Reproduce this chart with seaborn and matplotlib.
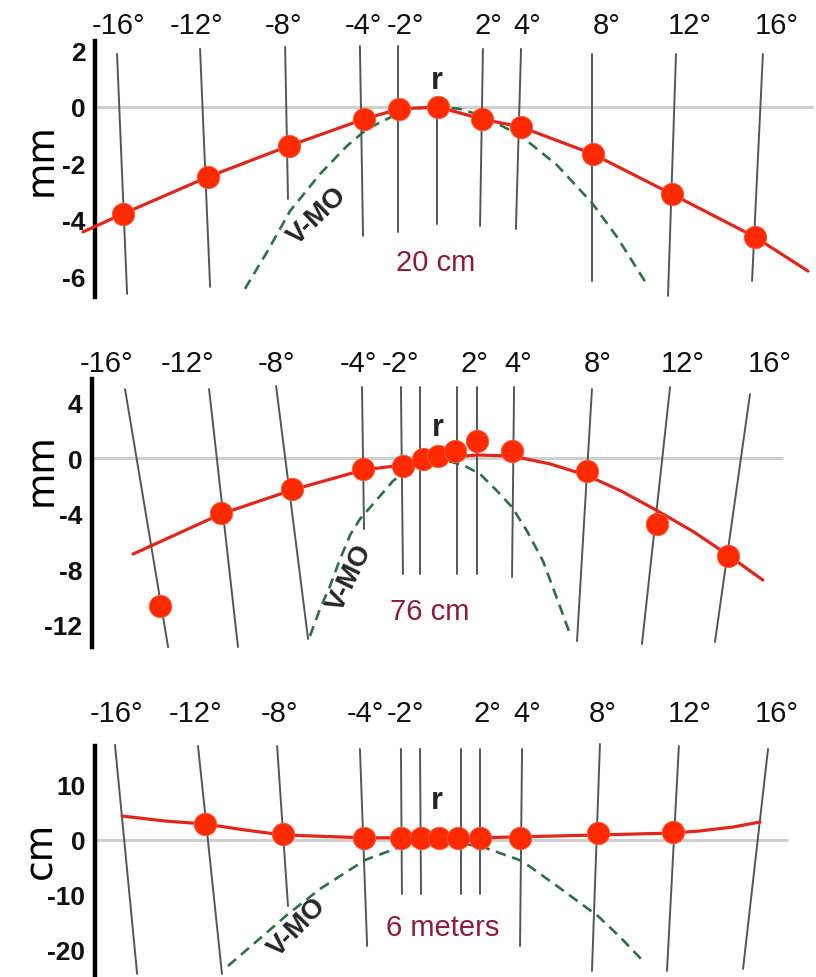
import matplotlib
matplotlib.use("Agg")
import matplotlib.pyplot as plt
import seaborn as sns

sns.set_theme(style="white")
plt.rcParams["font.family"] = ["Liberation Sans", "DejaVu Sans"]

# x = horizontal position (roughly degrees), y = height of the horopter point

# ---------- panel 1 : 20 cm (mm)
p1_labels = ["-16°", "-12°", "-8°", "-4°", "-2°", "2°", "4°", "8°", "12°", "16°"]
p1_label_x = [-15.56, -11.71, -7.51, -3.61, -1.56, 2.49, 4.39, 8.29, 12.34, 16.59]
p1_yticks = [2, 0, -2, -4, -6]
p1_mer_x0 = [-15.61, -11.56, -7.41, -3.76, -1.90, 0.00, 2.24, 4.10, 7.56, 11.66, 15.90]
p1_mer_y0 = [1.88, 2.06, 2.13, 2.16, 2.16, 0.00, 2.06, 2.06, 1.88, 1.88, 1.88]
p1_mer_x1 = [-15.12, -11.07, -7.27, -3.61, -1.90, 0.00, 2.10, 3.85, 7.56, 11.27, 15.37]
p1_mer_y1 = [-6.63, -6.38, -3.26, -4.57, -4.43, -4.15, -4.22, -4.33, -6.17, -6.70, -6.17]
p1_dot_x = [-15.32, -11.17, -7.22, -3.56, -1.85, 0.05, 2.20, 4.10, 7.61, 11.46, 15.51]
p1_dot_y = [-3.79, -2.48, -1.38, -0.43, -0.07, 0.00, -0.43, -0.71, -1.67, -3.09, -4.61]
p1_fit_x = [-17.27, -15.32, -11.17, -7.22, -3.56, -1.85, 0.05, 2.20, 4.10, 7.61, 11.46, 15.51, 18.10]
p1_fit_y = [-4.43, -3.79, -2.48, -1.38, -0.43, -0.07, 0.00, -0.43, -0.71, -1.67, -3.09, -4.61, -5.82]
p1_vmo_x = [-9.37, -8.29, -7.17, -5.71, -4.39, -3.41, -1.95, -0.83, 0.15, 1.12, 2.24, 4.10, 5.85, 7.56, 8.78, 10.29]
p1_vmo_y = [-6.45, -5.14, -3.69, -2.38, -1.38, -0.78, -0.25, -0.04, 0.00, -0.07, -0.32, -1.03, -2.06, -3.40, -4.61, -6.35]

# ---------- panel 2 : 76 cm (mm)
p2_labels = ["-16°", "-12°", "-8°", "-4°", "-2°", "2°", "4°", "8°", "12°", "16°"]
p2_label_x = [-16.10, -12.15, -7.85, -3.85, -1.80, 1.85, 3.95, 7.85, 12.00, 16.24]
p2_yticks = [4, 0, -4, -8, -12]
p2_mer_x0 = [-15.22, -11.12, -7.85, -3.66, -1.76, -0.83, 0.98, 1.95, 3.76, 7.56, 11.37, 15.27]
p2_mer_y0 = [4.96, 4.96, 5.18, 5.11, 5.11, 5.11, 5.11, 5.11, 5.11, 4.96, 5.11, 4.60]
p2_mer_x1 = [-13.12, -9.71, -6.29, -3.56, -1.66, -0.83, 0.98, 1.95, 3.66, 6.83, 10.00, 13.56]
p2_mer_y1 = [-13.60, -13.60, -13.02, -5.11, -8.35, -8.35, -8.35, -8.35, -8.56, -13.17, -13.38, -13.24]
p2_dot_x = [-13.51, -10.54, -7.07, -3.61, -1.66, -0.68, 0.05, 0.88, 1.95, 3.66, 7.32, 10.73, 14.20]
p2_dot_y = [-10.65, -3.96, -2.23, -0.79, -0.58, -0.07, 0.14, 0.50, 1.22, 0.50, -0.94, -4.75, -7.05]
p2_fit_x = [-14.83, -10.54, -7.07, -3.61, -1.66, 0.15, 1.95, 3.66, 5.51, 7.32, 9.02, 10.73, 12.49, 14.20, 15.90]
p2_fit_y = [-6.91, -4.03, -2.30, -0.86, -0.50, 0.00, 0.22, 0.14, -0.42, -1.25, -2.40, -3.78, -5.28, -6.98, -8.78]
p2_vmo_x = [-6.20, -5.71, -5.22, -4.73, -4.24, -3.76, -3.12, -2.15, -1.07, 0.15, 1.27, 2.10, 2.93, 3.66, 4.39, 5.17, 5.90, 6.49]
p2_vmo_y = [-12.81, -10.86, -9.21, -7.27, -5.54, -4.39, -3.31, -1.65, -0.50, -0.07, -0.50, -1.15, -2.37, -3.53, -5.25, -7.41, -10.29, -12.66]

# ---------- panel 3 : 6 meters (cm)
p3_labels = ["-16°", "-12°", "-8°", "-4°", "-2°", "2°", "4°", "8°", "12°", "16°"]
p3_label_x = [-15.61, -11.80, -7.66, -3.51, -1.56, 2.44, 4.39, 8.10, 12.34, 16.59]
p3_yticks = [10, 0, -10, -20]
p3_mer_x0 = [-15.71, -11.66, -7.80, -3.76, -1.76, -0.83, 1.17, 2.10, 4.15, 7.95, 11.80, 16.15]
p3_mer_y0 = [17.27, 17.09, 17.09, 16.55, 16.55, 16.55, 16.55, 16.55, 16.55, 17.45, 17.09, 16.55]
p3_mer_x1 = [-14.63, -10.49, -7.27, -3.41, -1.71, -0.78, 1.17, 2.10, 4.05, 7.56, 11.22, 14.93]
p3_mer_y1 = [-24.36, -24.36, -12.0, -19.27, -9.82, -9.82, -9.82, -9.82, -19.27, -23.82, -23.82, -23.45]
p3_dot_x = [-11.32, -7.51, -3.56, -1.76, -0.78, 0.10, 1.02, 2.10, 4.05, 7.85, 11.51]
p3_dot_y = [2.91, 1.09, 0.40, 0.40, 0.40, 0.40, 0.40, 0.40, 0.40, 1.27, 1.45]
p3_fit_x = [-15.37, -13.27, -11.32, -9.37, -7.51, -3.56, 2.10, 7.85, 11.51, 12.83, 14.44, 15.76]
p3_fit_y = [4.36, 3.45, 2.91, 1.82, 0.91, 0.40, 0.40, 0.91, 1.27, 1.64, 2.36, 3.27]
p3_vmo_x = [-10.20, -8.78, -7.32, -5.71, -3.51, -1.80, 0.15, 2.24, 4.15, 5.85, 7.85, 8.93, 10.05]
p3_vmo_y = [-22.91, -18.36, -13.64, -8.91, -3.64, -1.27, 0.00, -1.27, -3.82, -8.36, -13.82, -17.64, -22.00]

panels = [
    dict(labels=p1_labels, label_x=p1_label_x, yticks=p1_yticks,
         mer=(p1_mer_x0, p1_mer_y0, p1_mer_x1, p1_mer_y1),
         dots=(p1_dot_x, p1_dot_y), fit=(p1_fit_x, p1_fit_y), vmo=(p1_vmo_x, p1_vmo_y),
         unit="mm", dist="20 cm",
         box=(40, 300), ylim=(-6.81, 2.41), spine=(-6.74, 2.34), spine_x=-16.68,
         zero=(-16.6, 18.34), ylab=(0.051, 0.54), tpad=0,
         r=(0.0, 0.95), dist_xy=(-0.05, -5.50), vmo_xy=(-5.85, -3.85), vmo_rot=44),
    dict(labels=p2_labels, label_x=p2_label_x, yticks=p2_yticks,
         mer=(p2_mer_x0, p2_mer_y0, p2_mer_x1, p2_mer_y1),
         dots=(p2_dot_x, p2_dot_y), fit=(p2_fit_x, p2_fit_y), vmo=(p2_vmo_x, p2_vmo_y),
         unit="mm", dist="76 cm",
         box=(378, 650), ylim=(-13.74, 5.83), spine=(-13.60, 5.68), spine_x=-16.83,
         zero=(-16.83, 16.88), ylab=(0.051, 0.662), tpad=0,
         r=(0.05, 2.25), dist_xy=(-0.34, -11.0), vmo_xy=(-4.25, -8.56), vmo_rot=64),
    dict(labels=p3_labels, label_x=p3_label_x, yticks=p3_yticks,
         mer=(p3_mer_x0, p3_mer_y0, p3_mer_x1, p3_mer_y1),
         dots=(p3_dot_x, p3_dot_y), fit=(p3_fit_x, p3_fit_y), vmo=(p3_vmo_x, p3_vmo_y),
         unit="cm", dist="6 meters",
         box=(735, 978), ylim=(-24.91, 19.27), spine=(-24.91, 17.09), spine_x=-16.68,
         zero=(-16.68, 17.12), ylab=(0.051, 0.527), tpad=5,
         r=(0.0, 7.3), dist_xy=(0.29, -15.82), vmo_xy=(-6.83, -15.82), vmo_rot=46),
]

H = 978.0
fig = plt.figure(figsize=(8.16, 9.78), dpi=100)

for p in panels:
    top, bot = p["box"]
    ax = fig.add_axes([0, 1 - bot / H, 1, (bot - top) / H])
    ax.set_xlim(-21.32, 18.49)
    ax.set_ylim(*p["ylim"])
    ax.patch.set_alpha(0)

    # zero reference line
    ax.hlines(0, p["zero"][0], p["zero"][1], color="#cfcfcf", lw=2.2, zorder=1)

    # meridian lines
    x0, y0, x1, y1 = p["mer"]
    for a, b, c, d in zip(x0, y0, x1, y1):
        ax.plot([a, c], [b, d], color="#555555", lw=1.4, zorder=2, clip_on=False)

    # V-MO (dashed)
    ax.plot(p["vmo"][0], p["vmo"][1], color="#2f6e48", lw=1.9, dashes=(4, 2.5),
            zorder=3, clip_on=False)

    # fitted curve and data points
    sns.lineplot(x=p["fit"][0], y=p["fit"][1], sort=False, estimator=None,
                 color="#e3261c", lw=2.3, ax=ax, zorder=4)
    sns.scatterplot(x=p["dots"][0], y=p["dots"][1], color="#ff2a00", s=260,
                    edgecolor="#ff5a3a", linewidth=0.6, ax=ax, zorder=5, clip_on=False)

    # axes styling
    for side in ["top", "right", "bottom"]:
        ax.spines[side].set_visible(False)
    ax.spines["left"].set_position(("data", p["spine_x"]))
    ax.spines["left"].set_bounds(*p["spine"])
    ax.spines["left"].set_linewidth(3.2)
    ax.spines["left"].set_color("black")

    ax.set_yticks(p["yticks"])
    ax.set_yticklabels([str(v) for v in p["yticks"]], fontsize=19, fontweight="bold")
    ax.tick_params(axis="y", length=0, pad=7, labelcolor="#111111")

    ax.xaxis.tick_top()
    ax.set_xticks(p["label_x"])
    ax.set_xticklabels(p["labels"], fontsize=21)
    ax.tick_params(axis="x", length=0, pad=p["tpad"], labelcolor="#111111")

    ax.set_ylabel(p["unit"], fontsize=27, family="DejaVu Sans", color="black", va="center")
    ax.yaxis.set_label_coords(*p["ylab"])

    ax.text(*p["r"], "r", fontsize=22, fontweight="bold", ha="center", va="center", zorder=6)
    ax.text(*p["dist_xy"], p["dist"], fontsize=21, color="#8e1b3d", ha="center",
            va="center", zorder=6)
    ax.text(*p["vmo_xy"], "V-MO", fontsize=20, fontweight="bold", rotation=p["vmo_rot"],
            ha="center", va="center", rotation_mode="anchor", zorder=6)

fig.savefig("out.png", dpi=100)
